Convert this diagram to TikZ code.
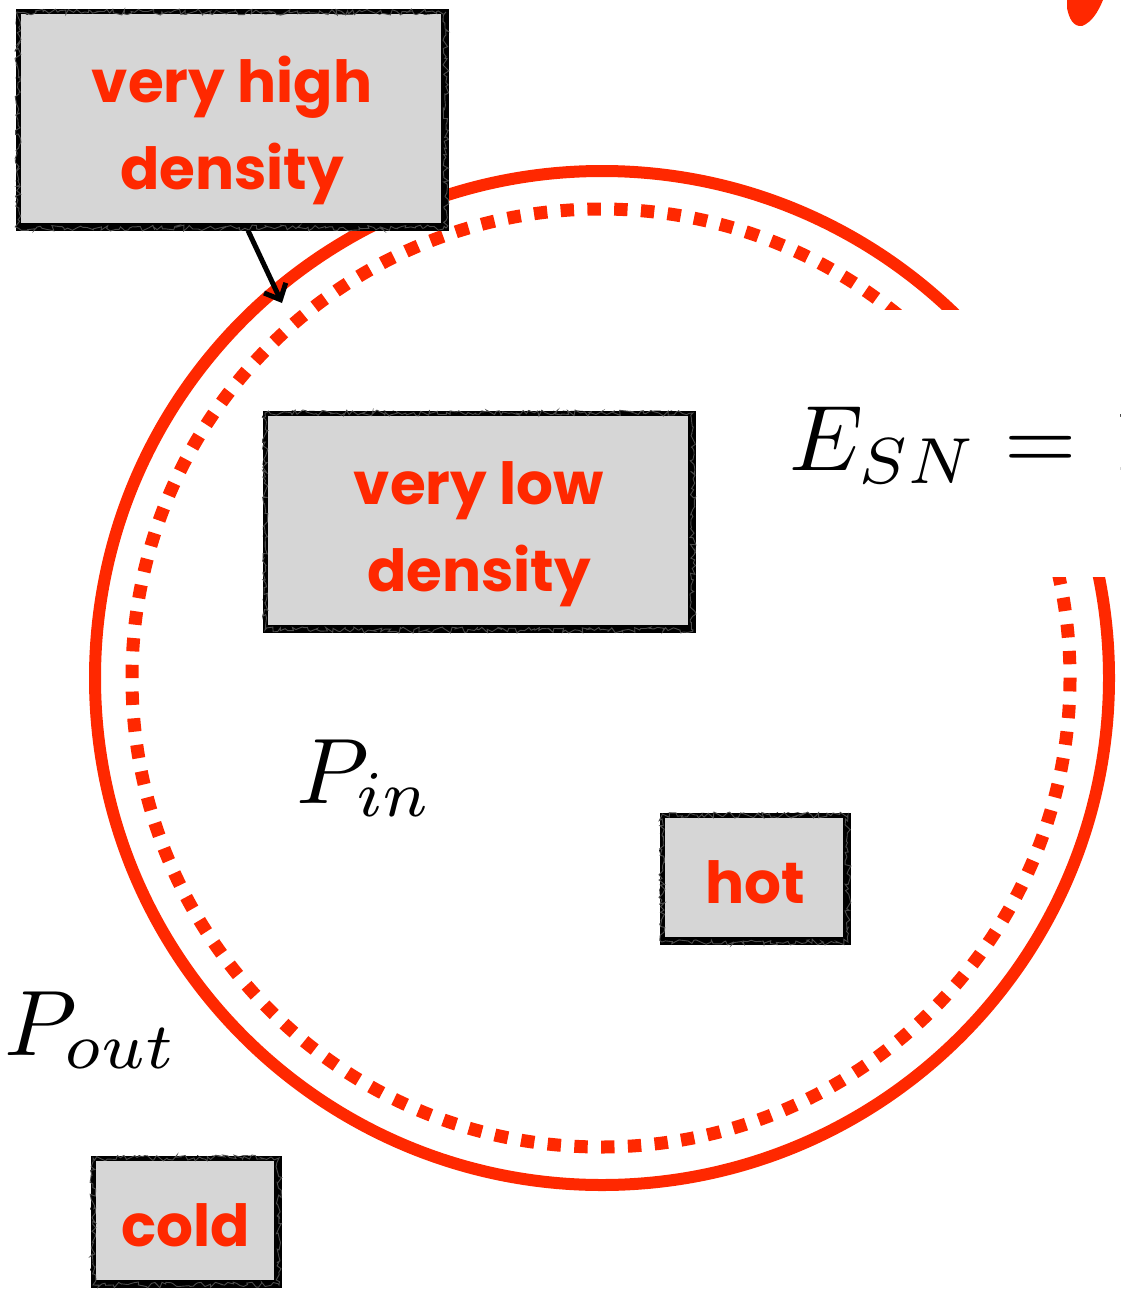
\documentclass[tikz,border=0pt]{standalone}
\usepackage{fontspec}
\newfontfamily\comic{Poppins}
\usetikzlibrary{arrows.meta,decorations.pathmorphing}
\definecolor{hotred}{RGB}{255,40,0}
\definecolor{boxgray}{RGB}{214,214,214}
\newcommand{\twolines}[2]{\raisebox{-9pt}[\height][\depth]{\begin{tabular}{@{}c@{}}#1\\#2\end{tabular}}}
\newcommand{\oneline}[1]{\raisebox{-4pt}[\height][\depth]{#1}}
\tikzset{
  sketchbox/.style={rectangle, fill=boxgray, draw=black, line width=5pt, inner sep=0pt,
    text=hotred, align=center, font=\comic\bfseries\fontsize{58}{87}\selectfont,
    path picture={\draw[black, line width=11pt]
      (path picture bounding box.north east) -- (path picture bounding box.south east)
      -- (path picture bounding box.south west);},
    postaction={draw=black, line width=1.6pt, decorate,
      decoration={random steps, segment length=5pt, amplitude=2pt}},
    postaction={draw=black!70, line width=0.9pt, decorate,
      decoration={random steps, segment length=3pt, amplitude=3pt}}},
  mathlabel/.style={anchor=base west, inner sep=0pt, scale=9.3},
  ring/.style={draw=hotred, line width=12pt},
  dotring/.style={draw=hotred, line width=13pt, dash pattern=on 13.4pt off 13.39pt},
}
\begin{document}
\begin{tikzpicture}[x=1pt,y=-1pt]
\path[use as bounding box, clip] (0,0) rectangle (1121,1290);
% circles
\draw[ring] (602,678) circle[radius=507];
\draw[dotring] (601,678) circle[radius=469];
% white cover behind the formula
\fill[white] (780,310) rectangle (1160,577);
\node[mathlabel] (esn) at (788,470) {$E_{SN} = \mkern2mu 1$};
% red blob at top right
\fill[hotred] (1067,0) -- (1103,0) .. controls (1098,12) and (1092,22) .. (1082,26)
  .. controls (1073,27) and (1069,18) .. (1067,8) -- cycle;
% boxes
\node[sketchbox, minimum width=428pt, minimum height=216pt] (high) at (232,120) {\twolines{very high}{density}};
\node[sketchbox, minimum width=428pt, minimum height=217pt] (low) at (479,521.5) {\twolines{very low}{density}};
\node[sketchbox, minimum width=186pt, minimum height=127pt] (hot) at (755,878.5) {\oneline{hot}};
\node[sketchbox, minimum width=186pt, minimum height=127pt] (cold) at (186,1221.5) {\oneline{cold}};
% labels
\node[mathlabel] (pin) at (295,803) {$P_{in}$};
\node[mathlabel] (pout) at (3,1055) {$P_{out}$};
% arrow
\coordinate (tip) at (282,303);
\draw[line width=5pt, -{Straight Barb[length=13pt,width=24pt]}] ([xshift=16pt]high.south) -- (tip);
\end{tikzpicture}
\end{document}
